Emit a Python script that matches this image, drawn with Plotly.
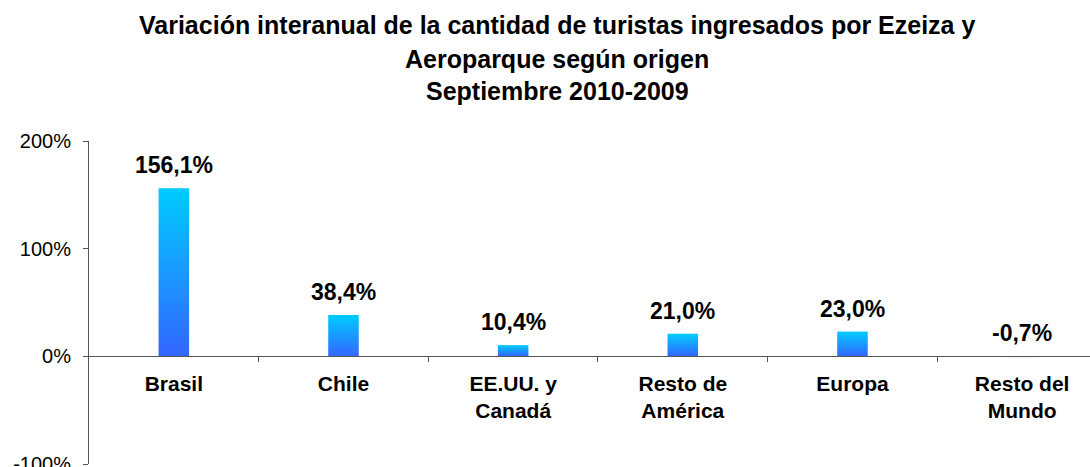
import plotly.graph_objects as go

categories = ["Brasil", "Chile", "EE.UU. y<br>Canadá", "Resto de<br>América", "Europa", "Resto del<br>Mundo"]
variation = [156.1, 38.4, 10.4, 21.0, 23.0, -0.7]
value_labels = ["156,1%", "38,4%", "10,4%", "21,0%", "23,0%", "-0,7%"]
y_ticks = [-100, 0, 100, 200]
y_tick_labels = ["-100%", "0%", "100%", "200%"]
title_lines = [
    "Variación interanual de la cantidad de turistas ingresados por Ezeiza y",
    "Aeroparque según origen",
    "Septiembre 2010-2009",
]

FONT = "Liberation Sans, Arial, Helvetica, sans-serif"
AXIS = "#555555"
BAR_W = 0.18

fig = go.Figure()

# bars drawn as filled shapes so they can carry a vertical gradient
for i, v in enumerate(variation):
    x0, x1 = i - BAR_W / 2, i + BAR_W / 2
    fig.add_trace(go.Scatter(
        x=[x0, x1, x1, x0, x0],
        y=[0, 0, v, v, 0],
        mode="lines",
        line=dict(width=0),
        fill="toself",
        fillgradient=dict(type="vertical",
                          colorscale=[[0, "#3366FF"], [1, "#00CCFF"]]),
        hoverinfo="skip",
        showlegend=False,
    ))
    fig.add_annotation(
        x=i, y=max(v, 0), text=f"<b>{value_labels[i]}</b>",
        showarrow=False, yanchor="middle", yshift=23,
        font=dict(size=23, color="#000000", family=FONT),
    )

for k, line in enumerate(title_lines):
    fig.add_annotation(
        x=(557 - 89) / 1001, xref="paper", y=1, yref="paper",
        text=f"<b>{line}</b>", showarrow=False, yanchor="middle",
        yshift=[116, 82, 50][k],
        font=dict(size=25, color="#000000", family=FONT),
    )

fig.update_layout(
    width=1090, height=467,
    margin=dict(l=89, r=0, t=141, b=3, autoexpand=False),
    paper_bgcolor="white", plot_bgcolor="white",
    font=dict(family=FONT, color="#000000"),
    xaxis=dict(
        range=[-0.5, 5.4],
        tickvals=list(range(len(categories))),
        ticktext=[f"<b>{c}</b>" for c in categories],
        tickfont=dict(size=21),
        ticks="", showgrid=False, zeroline=False,
        showline=True, linecolor=AXIS, linewidth=1,
        anchor="free", position=1 / 3,
        ticklabelstandoff=8, automargin=False,
        minor=dict(tickvals=[i + 0.5 for i in range(len(categories) - 1)],
                   ticks="outside", ticklen=5, tickcolor=AXIS, showgrid=False),
    ),
    yaxis=dict(
        range=[-100, 200],
        tickvals=y_ticks, ticktext=y_tick_labels,
        tickfont=dict(size=20),
        ticks="outside", ticklen=5, tickcolor=AXIS,
        showgrid=False, zeroline=False,
        showline=True, linecolor=AXIS, linewidth=1,
        ticklabelstandoff=8, automargin=False,
        ticklabeloverflow="allow",
    ),
)

fig.write_html("out.html", config={"displayModeBar": False},
               post_script="document.body.style.margin='0';")
